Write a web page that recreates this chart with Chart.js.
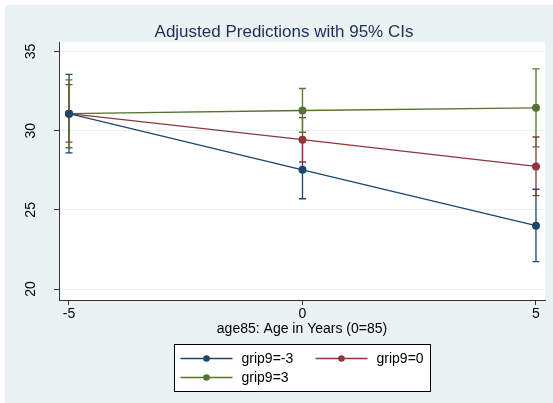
<!DOCTYPE html>
<html>
<head>
<meta charset="utf-8">
<script src="https://cdn.jsdelivr.net/npm/chart.js@4/dist/chart.umd.min.js"></script>
<style>
	html, body { margin: 0; padding: 0; background: #fff; }
	#wrap { width: 553px; height: 403px; }
</style>
</head>
<body>
<div id="wrap"><canvas id="chart-margins" width="553" height="403"></canvas></div>
<script>
	'use strict';

	// Datos
	const ageValues = [-5, 0, 5];
	const yTickValues = [20, 25, 30, 35];
	const groupLabels = ['grip9=-3', 'grip9=0', 'grip9=3'];

	const predNeg3 = [31.07, 27.53, 24.0];
	const lowNeg3 = [28.6, 25.7, 21.73];
	const highNeg3 = [33.55, 29.35, 26.3];

	const predZero = [31.07, 29.43, 27.74];
	const lowZero = [29.28, 28.02, 25.9];
	const highZero = [32.9, 30.82, 29.6];

	const predPos3 = [31.07, 31.27, 31.44];
	const lowPos3 = [28.92, 29.9, 28.97];
	const highPos3 = [33.2, 32.66, 33.9];

	const groupColors = ['#1a476f', '#90353b', '#55752f'];
	const FONT = '"Liberation Sans", Arial, Helvetica, sans-serif';

	const series = [
		{ pred: predNeg3, low: lowNeg3, high: highNeg3 },
		{ pred: predZero, low: lowZero, high: highZero },
		{ pred: predPos3, low: lowPos3, high: highPos3 }
	];

	const datasets = series.map((s, i) => ({
		label: groupLabels[i],
		data: s.pred.map((v, j) => ({ x: ageValues[j], y: v })),
		ciLow: s.low,
		ciHigh: s.high,
		borderColor: groupColors[i],
		backgroundColor: groupColors[i],
		borderWidth: 1.3,
		pointRadius: 4,
		pointBorderWidth: 0,
		tension: 0,
		fill: false
	}));

	const backgroundPlugin = {
		id: 'stataBackground',
		beforeDraw: function (chart) {
			const { ctx, chartArea } = chart;
			ctx.save();
			ctx.fillStyle = '#ffffff';
			ctx.fillRect(0, 0, chart.width, chart.height);
			ctx.fillStyle = '#eaf2f3';
			ctx.fillRect(5, 5, chart.width - 5, chart.height - 5);
			ctx.fillStyle = '#ffffff';
			ctx.fillRect(chartArea.left, chartArea.top, chartArea.right - chartArea.left, chartArea.bottom - chartArea.top);
			ctx.restore();
		}
	};

	const ciPlugin = {
		id: 'ciBars',
		beforeDatasetsDraw: function (chart) {
			const { ctx } = chart;
			const x = chart.scales.x;
			const y = chart.scales.y;
			chart.data.datasets.forEach(ds => {
				ctx.save();
				ctx.strokeStyle = ds.borderColor;
				ctx.lineWidth = 1.3;
				ds.ciLow.forEach((lo, i) => {
					const px = x.getPixelForValue(ageValues[i]);
					const top = y.getPixelForValue(ds.ciHigh[i]);
					const bot = y.getPixelForValue(lo);
					ctx.beginPath();
					ctx.moveTo(px, top);
					ctx.lineTo(px, bot);
					ctx.moveTo(px - 3.5, top);
					ctx.lineTo(px + 3.5, top);
					ctx.moveTo(px - 3.5, bot);
					ctx.lineTo(px + 3.5, bot);
					ctx.stroke();
				});
				ctx.restore();
			});
		}
	};

	const legendPlugin = {
		id: 'boxLegend',
		afterDraw: function (chart) {
			const { ctx } = chart;
			const box = { left: 174.5, top: 344.5, width: 256, height: 47 };
			ctx.save();
			ctx.fillStyle = '#ffffff';
			ctx.fillRect(box.left, box.top, box.width, box.height);
			ctx.strokeStyle = '#000000';
			ctx.lineWidth = 1;
			ctx.strokeRect(box.left, box.top, box.width, box.height);

			ctx.font = '14px ' + FONT;
			ctx.textBaseline = 'middle';
			ctx.textAlign = 'left';
			chart.data.datasets.forEach((ds, i) => {
				const col = i % 2;
				const row = Math.floor(i / 2);
				const x0 = box.left + 6 + col * 135;
				const yc = box.top + 14 + row * 19;
				ctx.strokeStyle = ds.borderColor;
				ctx.lineWidth = 1.3;
				ctx.beginPath();
				ctx.moveTo(x0, yc);
				ctx.lineTo(x0 + 52, yc);
				ctx.stroke();
				ctx.fillStyle = ds.borderColor;
				ctx.beginPath();
				ctx.arc(x0 + 26, yc, 3.3, 0, Math.PI * 2);
				ctx.fill();
				ctx.fillStyle = '#000000';
				ctx.fillText(ds.label, x0 + 61, yc + 1);
			});
			ctx.restore();
		}
	};

	const ctx = document.getElementById('chart-margins');

	new Chart(ctx, {
		type: 'line',
		data: { datasets: datasets },
		plugins: [backgroundPlugin, ciPlugin, legendPlugin],
		options: {
			responsive: false,
			animation: false,
			devicePixelRatio: 1,
			layout: {
				padding: { left: 23, right: 8, top: 5, bottom: 63 }
			},
			plugins: {
				legend: { display: false },
				tooltip: { enabled: false },
				title: {
					display: true,
					text: 'Adjusted Predictions with 95% CIs',
					color: '#1e2d53',
					font: { family: FONT, size: 17, weight: 'normal' },
					padding: { top: 17, bottom: 0 }
				}
			},
			scales: {
				x: {
					type: 'linear',
					min: -5.214,
					max: 5.193,
					afterBuildTicks: function (scale) {
						scale.ticks = ageValues.map(v => ({ value: v }));
					},
					afterFit: function (scale) {
						scale.height = 40;
					},
					ticks: {
						color: '#000000',
						font: { family: FONT, size: 14 },
						padding: 1,
						maxRotation: 0,
						autoSkip: false
					},
					grid: {
						drawOnChartArea: false,
						drawTicks: true,
						tickLength: 5,
						tickColor: '#333333'
					},
					border: { color: '#333333', width: 1 },
					title: {
						display: true,
						text: 'age85: Age in Years (0=85)',
						color: '#000000',
						font: { family: FONT, size: 14 },
						padding: { top: 0, bottom: 2 }
					}
				},
				y: {
					type: 'linear',
					min: 19.31,
					max: 35.57,
					afterBuildTicks: function (scale) {
						scale.ticks = yTickValues.map(v => ({ value: v }));
					},
					afterFit: function (scale) {
						scale.width = 36;
					},
					ticks: {
						color: '#000000',
						font: { family: FONT, size: 14 },
						minRotation: 90,
						maxRotation: 90,
						crossAlign: 'center',
						padding: 15,
						autoSkip: false
					},
					grid: {
						color: '#eaf2f3',
						lineWidth: 1,
						tickLength: 5,
						tickColor: '#333333'
					},
					border: { color: '#333333', width: 1 }
				}
			}
		}
	});
</script>
</body>
</html>
